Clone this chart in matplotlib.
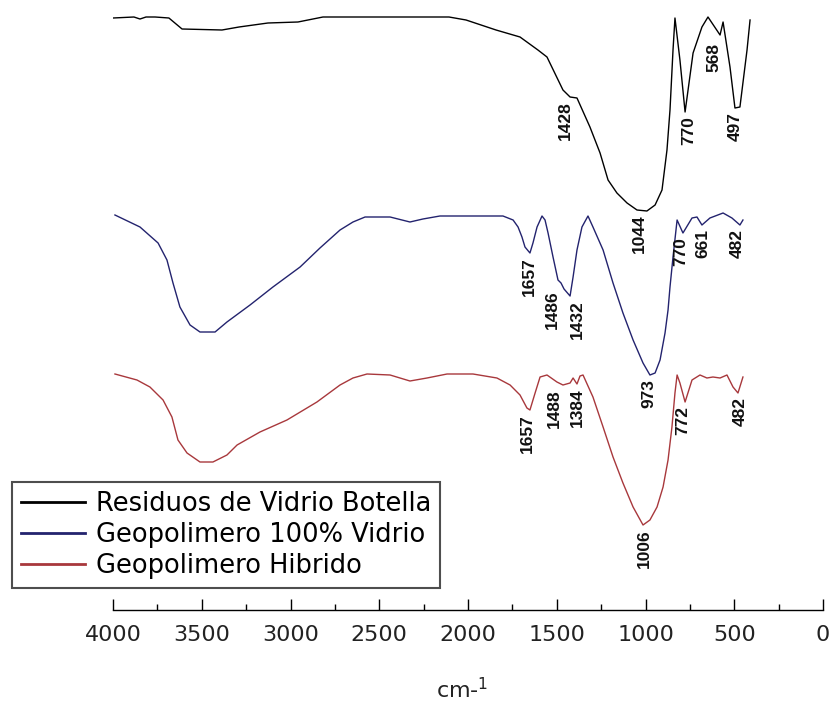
import numpy as np
import matplotlib
matplotlib.use("Agg")
import matplotlib.pyplot as plt
from matplotlib import font_manager
from matplotlib.font_manager import FontProperties

# Espectros FTIR (transmitancia en u.a., ya desplazados verticalmente)
wn_vidrio = [4000, 3882, 3848, 3814, 3763, 3685, 3611, 3386, 3290, 3127,
             2958, 2817, 2107, 2011, 1842, 1707, 1606, 1555, 1465, 1425,
             1386, 1313, 1256, 1211, 1161, 1104, 1048, 992, 946, 907,
             879, 862, 845, 834, 806, 777, 732, 682, 648, 580,
             563, 524, 496, 468, 428, 411]
t_vidrio = [592, 593, 591, 593, 593, 592, 581, 580, 583, 587,
            588, 593, 593, 590, 580, 573, 560, 553, 520, 513,
            512, 483, 457, 430, 417, 407, 400, 399, 405, 420,
            460, 500, 560, 592, 550, 498, 557, 583, 593, 575,
            588, 543, 502, 503, 560, 590]

wn_geo100 = [3989, 3848, 3746, 3696, 3662, 3623, 3566, 3510, 3425, 3358,
             3228, 3099, 2946, 2834, 2721, 2648, 2580, 2439, 2327, 2254,
             2158, 1803, 1746, 1718, 1696, 1679, 1651, 1634, 1611, 1583,
             1566, 1549, 1521, 1493, 1476, 1459, 1425, 1408, 1386, 1358,
             1324, 1296, 1239, 1183, 1127, 1070, 1014, 975, 946, 918,
             890, 873, 862, 845, 822, 789, 738, 710, 682, 637,
             563, 513, 468, 451]
t_geo100 = [395, 383, 367, 350, 327, 303, 285, 278, 278, 288,
            305, 323, 343, 362, 380, 388, 393, 393, 388, 391,
            394, 394, 390, 383, 373, 363, 357, 367, 383, 394,
            390, 377, 353, 330, 327, 321, 314, 333, 360, 383,
            394, 383, 360, 327, 297, 270, 247, 235, 237, 250,
            277, 300, 323, 353, 390, 377, 392, 393, 385, 392,
            397, 392, 385, 390]

wn_hibrido = [3989, 3865, 3792, 3718, 3668, 3634, 3583, 3510, 3437, 3358,
              3301, 3172, 3020, 2851, 2721, 2648, 2569, 2439, 2327, 2231,
              2118, 1972, 1837, 1763, 1707, 1668, 1651, 1622, 1594, 1555,
              1499, 1465, 1425, 1408, 1386, 1369, 1352, 1296, 1239, 1183,
              1127, 1070, 1014, 975, 935, 901, 873, 851, 834, 822,
              806, 777, 738, 693, 654, 620, 580, 541, 507, 479,
              451]
t_hibrido = [236, 230, 223, 210, 193, 170, 157, 148, 148, 155,
             165, 178, 190, 208, 225, 232, 236, 235, 229, 232,
             236, 236, 232, 225, 215, 202, 200, 217, 233, 235,
             228, 225, 227, 232, 226, 234, 235, 213, 183, 153,
             127, 103, 85, 90, 103, 123, 150, 183, 217, 235,
             227, 208, 230, 235, 232, 233, 232, 235, 223, 217,
             233]

# Picos asignados en cada espectro (cm-1)
picos_vidrio = [1428, 1044, 770, 568, 497]
picos_geo100 = [1657, 1486, 1432, 973, 770, 661, 482]
picos_hibrido = [1657, 1488, 1384, 1006, 772, 482]

nombres = ["Residuos de Vidrio Botella", "Geopolimero 100% Vidrio",
           "Geopolimero Hibrido"]
colores = ["#000000", "#23236e", "#a8383c"]

ticks_x = np.arange(4000, -1, -500)


def fuente(nombre, alternativa):
    try:
        font_manager.findfont(FontProperties(family=nombre),
                              fallback_to_default=False)
        return nombre, True
    except ValueError:
        return alternativa, False


fam_picos, es_narrow = fuente("Liberation Sans Narrow", "Liberation Sans")
tam_picos = 14.5 if es_narrow else 12.5

# desplazamiento horizontal (pt) de algunas etiquetas para que no se pisen
ajuste = {
    (0, 1428): -3, (0, 770): 2, (0, 568): -6, (0, 1044): 1,
    (1, 1486): -5, (1, 1432): 6, (1, 973): -1, (1, 770): -4, (1, 661): -2,
    (2, 1657): -1, (2, 1488): -3, (2, 772): -2, (2, 482): 2,
}

fig = plt.figure(figsize=(8.3, 7.1), dpi=100)
ax = fig.add_axes([113 / 830, 100 / 710, 710 / 830, 610 / 710])

espectros = [(wn_vidrio, t_vidrio, picos_vidrio),
             (wn_geo100, t_geo100, picos_geo100),
             (wn_hibrido, t_hibrido, picos_hibrido)]

for i, (wn, t, picos) in enumerate(espectros):
    ax.plot(wn, t, color=colores[i], lw=1.0, label=nombres[i])
    x_inc = np.array(wn[::-1], dtype=float)
    y_inc = np.array(t[::-1], dtype=float)
    for p in picos:
        ventana = np.linspace(p - 20, p + 20, 41)
        y_min = np.interp(ventana, x_inc, y_inc).min()
        ax.annotate(str(p), xy=(p, y_min), xytext=(ajuste.get((i, p), 0), -3),
                    textcoords="offset points", rotation=90,
                    ha="center", va="top", fontsize=tam_picos,
                    fontweight="bold", family=fam_picos, color="#111111")

ax.set_xlim(4000, 0)
ax.set_ylim(0, 610)
for lado in ["left", "right", "top"]:
    ax.spines[lado].set_visible(False)
ax.spines["bottom"].set_linewidth(1.0)
ax.set_yticks([])
ax.set_xticks(ticks_x)
ax.set_xticks(np.arange(3750, 0, -500), minor=True)
ax.tick_params(axis="x", which="major", direction="in", length=8, width=1,
               labelsize=16, pad=11)
ax.tick_params(axis="x", which="minor", direction="in", length=4, width=1)
ax.set_xticklabels([str(v) for v in ticks_x], color="#222222")

fig.text(462 / 830, 1 - 690 / 710, "cm-$^{1}$", ha="center", va="center",
         fontsize=16, color="#222222")

leg = ax.legend(loc="lower left", bbox_to_anchor=(12 / 830, 1 - 588 / 710),
                bbox_transform=fig.transFigure, fontsize=18.5, frameon=True,
                fancybox=False, borderpad=0.35, labelspacing=0.2,
                handlelength=2.5, handletextpad=0.4, borderaxespad=0)
leg.get_frame().set_edgecolor("#222222")
leg.get_frame().set_linewidth(1.5)
for linea in leg.get_lines():
    linea.set_linewidth(2.0)

fig.savefig("out.png", dpi=100)
